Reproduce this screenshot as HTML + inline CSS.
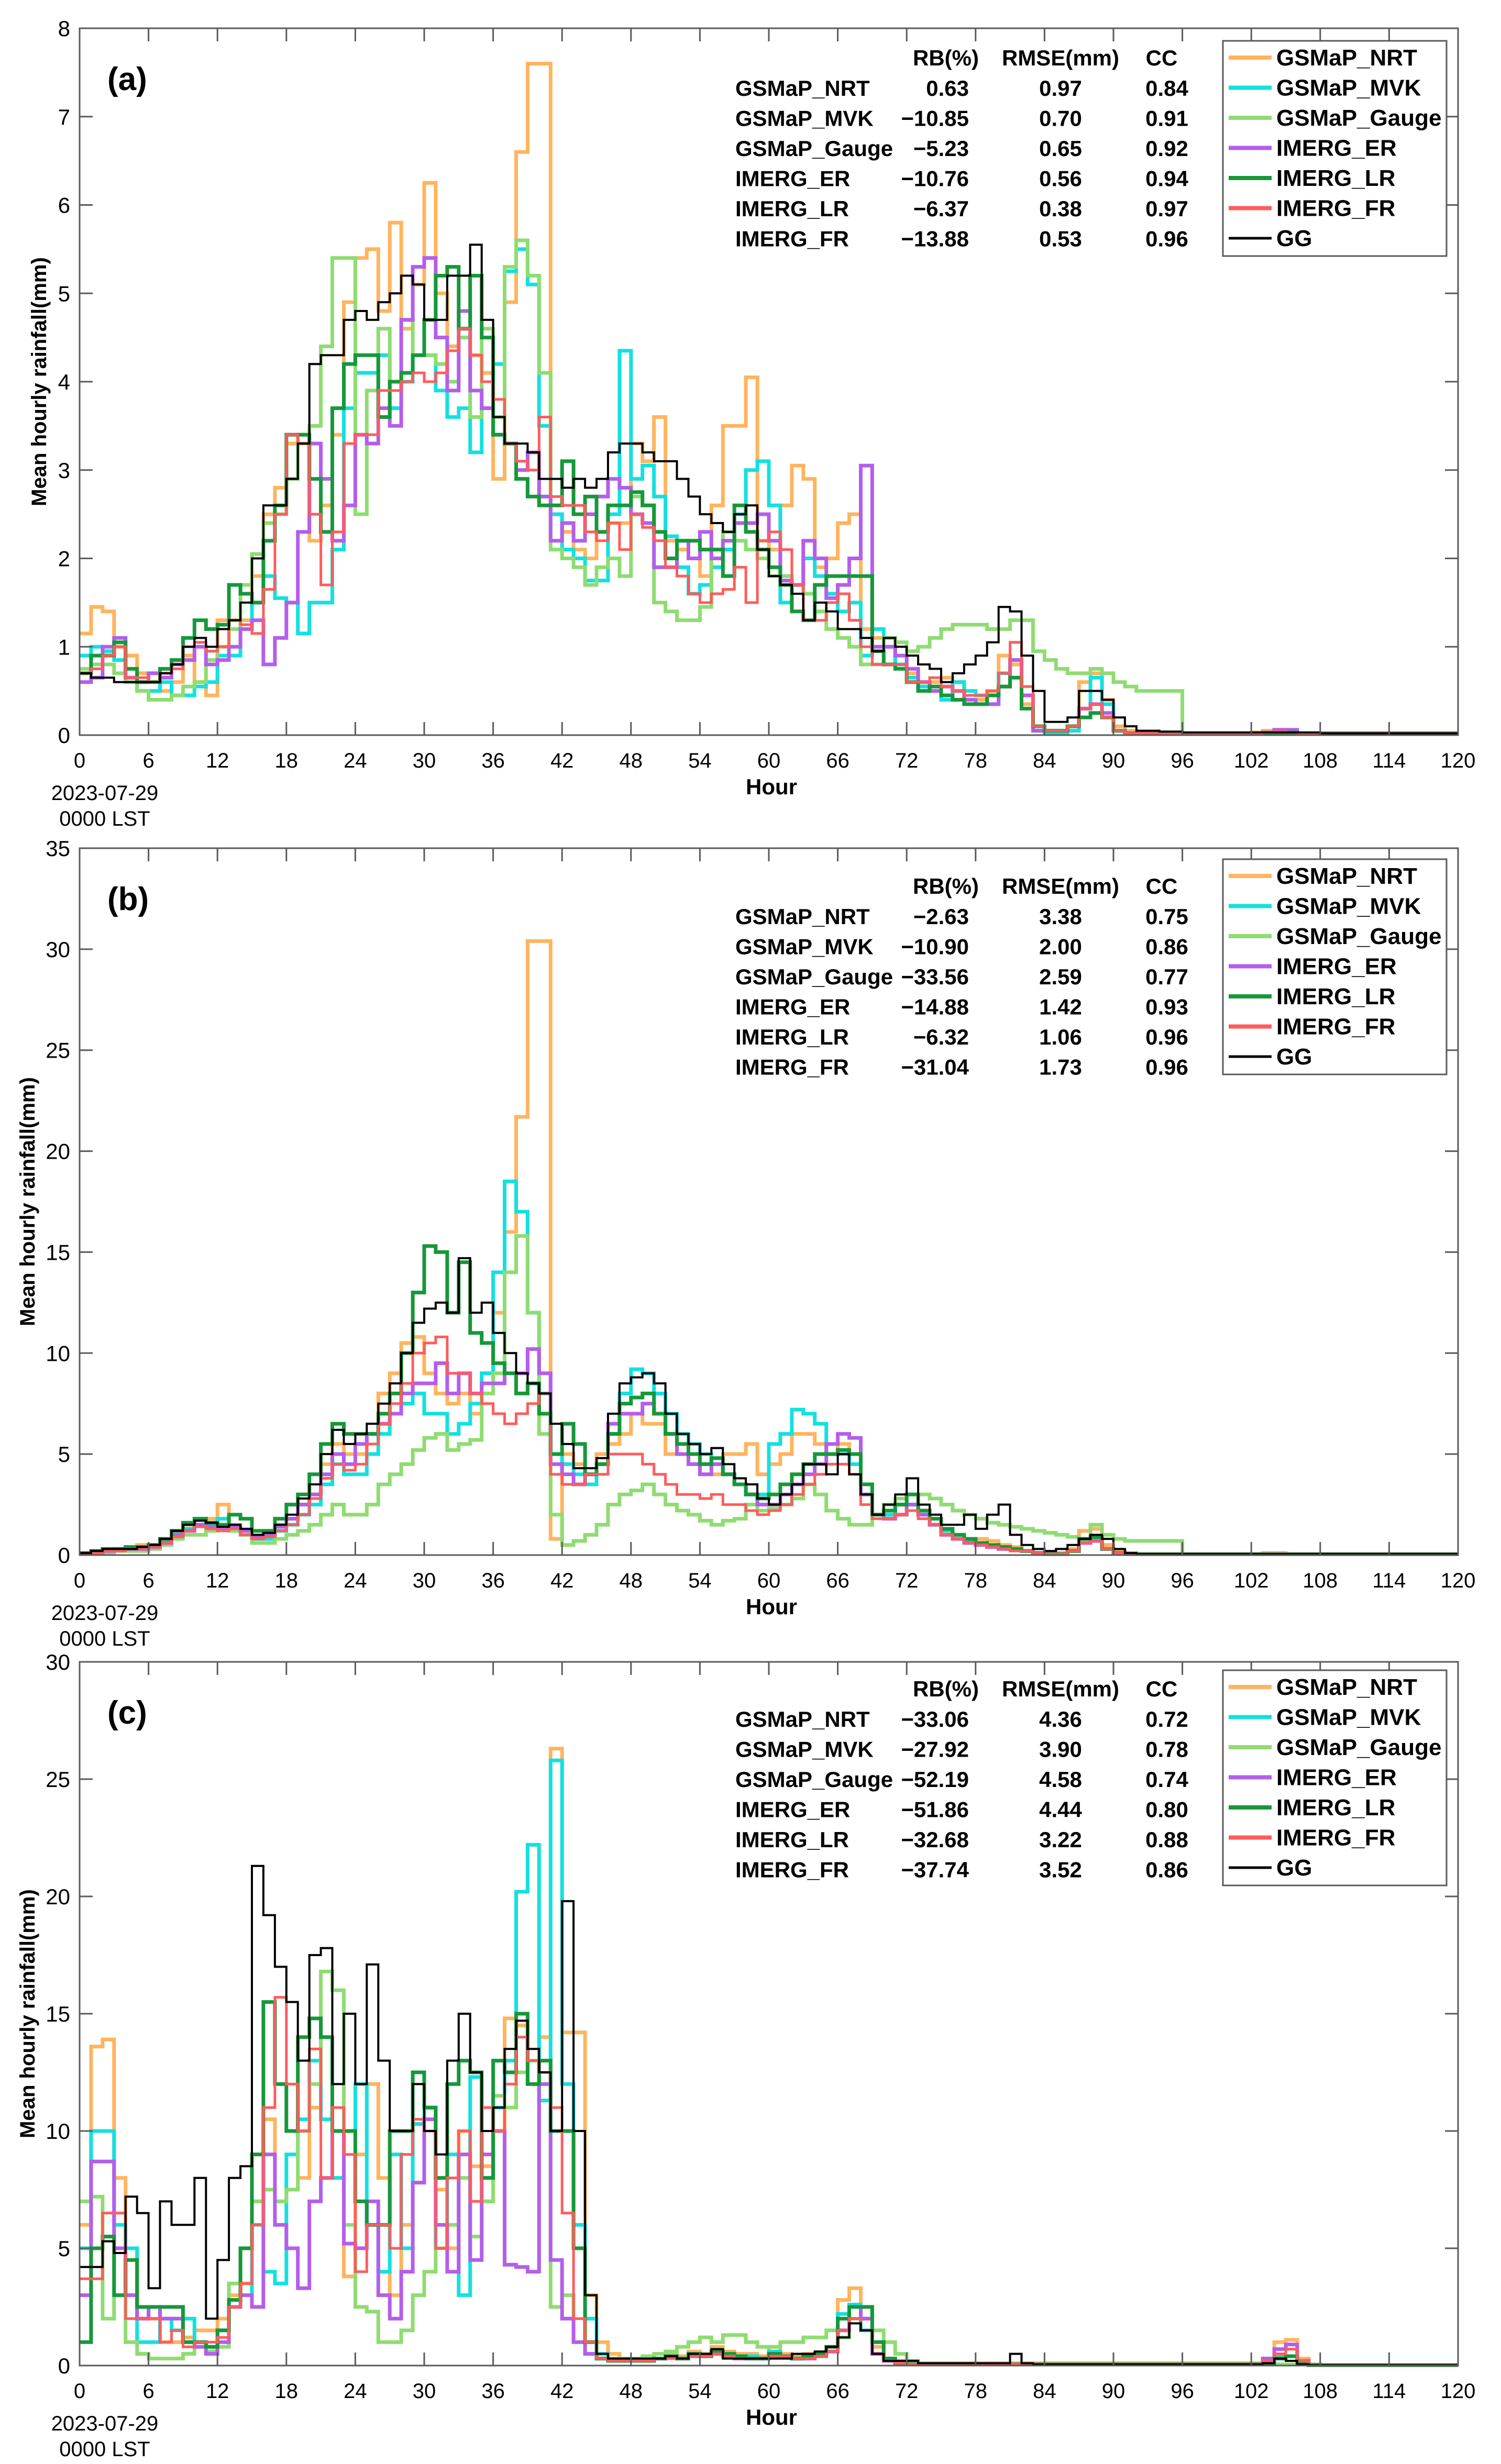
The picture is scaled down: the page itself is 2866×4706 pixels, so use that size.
<!DOCTYPE html>
<html><head><meta charset="utf-8">
<style>
html,body{margin:0;padding:0;background:#fff;}
svg{display:block;}
text{font-family:"Liberation Sans Narrow","Liberation Sans",sans-serif;fill:#000;}
</style></head>
<body>
<svg id="fig" xmlns="http://www.w3.org/2000/svg" width="2866" height="4706" viewBox="0 0 2866 4706"></svg>
<script>
// ---------- shared ----------
const seriesNames = ["GSMaP_NRT","GSMaP_MVK","GSMaP_Gauge","IMERG_ER","IMERG_LR","IMERG_FR","GG"];
const xTicks = [0,6,12,18,24,30,36,42,48,54,60,66,72,78,84,90,96,102,108,114,120];

// ---------- panel (a) ----------
const a_nrt=[1.15,1.45,1.4,1.0,0.9,0.7, 0.7,0.5,0.6,0.9,0.6,0.45, 1.3,1.3,1.3,1.8,2.5,2.8, 3.3,3.4,2.2,2.6,3.4,4.9, 5.4,5.5,4.8,5.8,4.6,5.1, 6.25,5.0,4.4,4.5,4.3,4.1, 2.9,4.9,6.6,7.6,7.6,2.5, 2.3,2.1,2.0,2.3,2.4,2.4, 3.3,3.1,3.6,2.2,2.1,2.0, 1.8,2.6,3.5,3.5,4.05,2.2, 2.1,2.6,3.05,2.9,1.9,2.0, 2.4,2.5,1.2,1.1,1.1,0.8, 0.7,0.6,0.6,0.65,0.6,0.4, 0.4,0.5,0.9,0.8,0.35,0.1, 0.05,0.05,0.1,0.6,0.7,0.4, 0.1,0.05,0.03,0.03,0.03,0.02, 0.02,0.02,0.02,0.02,0.02,0.02, 0.03,0.05,0.05,0.02,0.02,0.02, 0.02,0.02,0.02,0.02,0.02,0.02, 0.02,0.02,0.02,0.02,0.02,0.02];
const a_mvk=[0.9,1.0,0.95,0.85,0.6,0.5, 0.5,0.6,0.45,0.45,0.55,0.6, 0.9,0.9,1.2,1.5,1.8,1.55, 1.5,1.15,1.5,1.5,2.1,3.7, 4.1,4.1,4.3,3.7,4.0,4.3, 4.3,3.9,3.6,3.7,3.2,3.7, 4.2,5.25,5.5,5.1,3.5,2.5, 2.1,2.0,1.75,1.75,2.5,4.35, 2.9,3.05,2.7,2.25,1.9,1.6, 1.7,1.9,2.1,2.5,3.0,3.1, 2.6,1.5,1.7,2.0,1.8,1.6, 1.4,1.5,0.9,1.2,1.0,0.8, 0.65,0.55,0.5,0.4,0.6,0.5, 0.45,0.35,0.7,0.85,0.45,0.05, 0.02,0.02,0.05,0.3,0.65,0.35, 0.05,0.02,0.02,0.02,0.02,0.02, 0.02,0.02,0.02,0.02,0.02,0.02, 0.02,0.03,0.04,0.02,0.02,0.02, 0.02,0.02,0.02,0.02,0.02,0.02, 0.02,0.02,0.02,0.02,0.02,0.02];
const a_gauge=[0.75,0.8,0.8,0.7,0.6,0.5, 0.4,0.4,0.45,0.55,0.6,0.85, 1.0,1.2,1.7,2.05,2.4,2.5, 2.9,3.3,3.5,4.4,5.4,5.4, 2.5,3.9,4.6,4.0,4.7,4.3, 4.3,4.2,4.0,4.5,3.6,4.6, 3.6,5.3,5.6,5.2,4.1,2.1, 2.0,1.9,1.7,1.9,2.0,1.8, 2.7,2.6,1.5,1.4,1.3,1.3, 1.45,2.0,2.3,2.2,2.1,2.0, 1.8,1.8,1.7,1.6,1.4,1.2, 1.1,1.0,0.8,0.8,1.1,1.05, 0.95,1.0,1.1,1.2,1.25,1.25, 1.25,1.2,1.2,1.3,1.3,0.95, 0.85,0.75,0.7,0.7,0.75,0.7, 0.6,0.55,0.5,0.5,0.5,0.5, 0.02,0.02,0.02,0.02,0.02,0.02, 0.02,0.02,0.02,0.02,0.02,0.02, 0.02,0.02,0.02,0.02,0.02,0.02, 0.02,0.02,0.02,0.02,0.02,0.02];
const a_er=[0.6,0.65,1.0,1.1,0.65,0.6, 0.7,0.65,0.8,0.85,1.0,0.8, 0.85,1.0,1.2,1.3,0.8,1.1, 1.5,2.3,3.3,2.9,2.2,2.6, 3.4,3.3,3.7,3.5,4.7,5.3, 5.4,4.5,3.9,4.8,3.9,3.7, 3.4,3.3,3.0,3.2,2.7,2.2, 2.4,2.2,2.5,2.7,2.9,2.8, 2.5,2.4,1.9,1.9,2.2,2.0, 2.3,2.0,2.2,2.4,2.4,2.5, 2.2,1.75,1.7,2.2,2.0,1.55, 1.7,2.0,3.05,1.0,1.0,0.9, 0.75,0.6,0.5,0.55,0.5,0.4, 0.35,0.35,0.55,0.85,0.45,0.05, 0.05,0.05,0.1,0.3,0.35,0.25, 0.05,0.02,0.02,0.02,0.02,0.02, 0.02,0.02,0.02,0.02,0.02,0.02, 0.02,0.03,0.06,0.06,0.02,0.02, 0.02,0.02,0.02,0.02,0.02,0.02, 0.02,0.02,0.02,0.02,0.02,0.02];
const a_lr=[0.7,0.9,0.9,1.05,0.75,0.6, 0.6,0.75,0.85,1.1,1.3,1.2, 1.25,1.7,1.6,1.5,2.2,2.6, 3.4,3.4,2.9,2.3,3.7,4.2, 4.3,4.3,3.6,4.0,4.1,4.3, 4.7,5.2,5.3,4.6,5.2,4.5, 3.4,3.3,2.9,2.7,2.6,2.6, 3.1,2.5,2.7,2.3,2.6,2.6, 2.75,2.6,2.3,2.0,2.2,2.2, 2.1,2.1,1.8,2.6,2.3,2.1, 1.9,1.7,1.4,1.3,1.7,1.8, 1.8,1.8,1.8,0.95,0.8,0.75, 0.6,0.5,0.55,0.45,0.4,0.35, 0.35,0.45,0.55,0.65,0.3,0.1, 0.05,0.05,0.1,0.2,0.25,0.2, 0.05,0.02,0.02,0.02,0.02,0.02, 0.02,0.02,0.02,0.02,0.02,0.02, 0.02,0.02,0.03,0.03,0.02,0.02, 0.02,0.02,0.02,0.02,0.02,0.02, 0.02,0.02,0.02,0.02,0.02,0.02];
const a_fr=[0.7,0.75,0.9,1.0,0.65,0.65, 0.6,0.7,0.75,1.0,1.05,0.95, 1.0,1.3,1.25,1.15,1.65,2.5, 3.4,3.3,2.5,1.7,2.3,3.3, 3.4,3.4,3.9,3.9,4.0,4.1, 4.0,4.1,4.35,4.6,4.3,4.0, 3.8,3.3,3.1,3.0,3.6,2.7, 2.6,2.6,2.3,2.2,2.4,2.1, 2.5,2.35,2.2,1.9,1.8,1.6, 1.5,1.6,1.65,1.9,1.5,2.2, 2.3,2.1,1.7,1.3,1.3,1.5, 1.6,1.3,1.0,0.8,0.8,0.8, 0.6,0.6,0.65,0.55,0.5,0.45, 0.45,0.5,0.7,1.05,0.55,0.1, 0.05,0.05,0.1,0.3,0.35,0.2, 0.05,0.02,0.02,0.02,0.02,0.02, 0.02,0.02,0.02,0.02,0.02,0.02, 0.02,0.03,0.04,0.03,0.02,0.02, 0.02,0.02,0.02,0.02,0.02,0.02, 0.02,0.02,0.02,0.02,0.02,0.02];
const a_gg=[0.7,0.65,0.65,0.6,0.6,0.6, 0.6,0.7,0.8,1.0,1.1,1.0, 1.2,1.3,1.5,2.0,2.6,2.6, 2.9,3.3,4.2,4.3,4.3,4.7, 4.8,4.7,4.9,5.0,5.2,5.1, 4.7,4.7,5.2,5.2,5.55,4.7, 3.6,3.3,3.3,3.2,2.9,2.9, 2.8,2.9,2.8,2.9,3.2,3.3, 3.3,3.2,3.1,3.1,2.9,2.7, 2.5,2.4,2.3,2.5,2.6,2.1, 1.8,1.7,1.6,1.3,1.5,1.4, 1.2,1.2,1.1,0.95,1.1,1.0, 0.9,0.8,0.75,0.6,0.7,0.8, 0.9,1.05,1.45,1.4,0.9,0.5, 0.15,0.15,0.2,0.5,0.5,0.4, 0.2,0.1,0.05,0.05,0.04,0.04, 0.03,0.03,0.03,0.03,0.03,0.03, 0.03,0.03,0.03,0.03,0.03,0.03, 0.02,0.02,0.02,0.02,0.02,0.02, 0.02,0.02,0.02,0.02,0.02,0.02];
const a_rb=["0.63","\u221210.85","\u22125.23","\u221210.76","\u22126.37","\u221213.88"];
const a_rmse=["0.97","0.70","0.65","0.56","0.38","0.53"];
const a_cc=["0.84","0.91","0.92","0.94","0.97","0.96"];

// ---------- panel (b) ----------
const b_nrt=[0.1,0.2,0.3,0.3,0.4,0.5, 0.5,0.8,1.2,1.5,1.5,1.8, 2.5,1.5,1.2,0.8,0.9,1.5, 1.8,2.5,3.0,4.5,5.5,5.0, 5.0,6.0,8.0,9.0,10.5,10.8, 9.0,8.0,7.5,8.0,7.0,9.0, 12.0,16.0,21.7,30.4,30.4,0.8, 5.0,4.5,4.0,5.0,5.5,6.0, 7.0,6.5,6.5,5.0,5.0,4.5, 4.0,4.0,5.0,5.0,5.5,4.0, 4.5,5.0,6.0,6.0,5.5,5.0, 5.5,5.0,3.0,2.0,2.0,2.0, 2.5,2.0,1.5,1.2,1.0,0.8, 0.8,0.7,0.5,0.4,0.2,0.1, 0.1,0.1,0.3,1.2,1.3,0.5, 0.2,0.1,0.05,0.05,0.05,0.05, 0.05,0.05,0.05,0.05,0.05,0.05, 0.05,0.1,0.1,0.05,0.05,0.05, 0.05,0.05,0.05,0.05,0.05,0.05, 0.05,0.05,0.05,0.05,0.05,0.05];
const b_mvk=[0.1,0.2,0.2,0.3,0.3,0.4, 0.5,0.7,1.0,1.3,1.5,1.5, 1.8,1.2,1.0,0.8,0.8,1.2, 1.5,2.0,2.5,3.5,4.5,4.0, 4.0,5.0,6.0,7.0,7.5,8.0, 7.0,7.0,6.0,6.5,7.5,9.0, 14.0,18.5,17.0,12.0,8.0,5.0, 4.5,4.0,3.5,4.5,6.0,8.0, 9.2,9.0,8.0,7.0,6.0,5.5, 5.0,4.5,4.0,3.5,3.0,3.0, 5.5,6.0,7.2,7.0,6.5,5.0, 5.0,4.5,3.0,2.0,2.0,2.5, 2.5,2.0,1.5,1.2,1.0,0.7, 0.5,0.4,0.3,0.3,0.2,0.1, 0.05,0.05,0.2,0.8,0.8,0.3, 0.1,0.05,0.05,0.05,0.05,0.05, 0.05,0.05,0.05,0.05,0.05,0.05, 0.05,0.05,0.05,0.05,0.05,0.05, 0.05,0.05,0.05,0.05,0.05,0.05, 0.05,0.05,0.05,0.05,0.05,0.05];
const b_gauge=[0.05,0.1,0.1,0.2,0.2,0.2, 0.3,0.5,0.8,1.0,1.0,1.2, 1.5,1.2,1.0,0.6,0.6,0.8, 1.0,1.2,1.5,2.0,2.5,2.0, 2.0,2.5,3.5,4.0,4.5,5.2, 5.8,6.0,5.2,5.5,5.7,8.0, 9.0,14.0,15.8,12.0,6.0,2.0, 0.5,0.7,1.0,1.5,2.5,3.0, 3.2,3.5,3.0,2.5,2.2,2.0, 1.7,1.5,1.7,1.8,2.5,2.2, 2.3,2.5,2.8,3.5,3.0,2.2, 1.8,1.5,1.5,2.0,2.5,2.8, 3.0,3.0,2.8,2.5,2.2,2.0, 1.8,1.6,1.5,1.4,1.3,1.2, 1.1,1.0,0.9,0.8,1.5,1.0, 0.8,0.7,0.7,0.7,0.7,0.7, 0.05,0.05,0.05,0.05,0.05,0.05, 0.05,0.05,0.05,0.05,0.05,0.05, 0.05,0.05,0.05,0.05,0.05,0.05, 0.05,0.05,0.05,0.05,0.05,0.05];
const b_er=[0.1,0.1,0.2,0.3,0.3,0.3, 0.4,0.6,1.0,1.2,1.5,1.4, 1.3,1.4,1.2,0.9,1.0,1.4, 1.8,2.5,3.0,4.0,5.0,4.5, 5.5,6.0,6.5,7.0,8.0,8.5, 8.5,9.5,8.0,9.0,8.0,8.5, 8.5,9.0,9.0,10.2,9.0,4.5, 4.0,3.5,4.0,4.5,6.5,7.0, 7.0,7.5,7.0,6.0,5.0,4.5, 4.0,4.5,4.0,3.5,3.0,2.5, 2.5,3.0,3.5,4.0,4.5,5.5, 6.0,5.8,3.0,2.0,1.8,2.0, 2.5,2.0,1.5,1.0,0.8,0.6, 0.5,0.4,0.3,0.3,0.2,0.1, 0.05,0.05,0.2,0.6,0.7,0.3, 0.1,0.05,0.05,0.05,0.05,0.05, 0.05,0.05,0.05,0.05,0.05,0.05, 0.05,0.05,0.05,0.05,0.05,0.05, 0.05,0.05,0.05,0.05,0.05,0.05, 0.05,0.05,0.05,0.05,0.05,0.05];
const b_lr=[0.1,0.2,0.3,0.3,0.4,0.4, 0.5,0.8,1.2,1.6,1.8,1.6, 1.5,2.0,1.8,1.2,1.2,1.8, 2.5,3.0,4.0,5.5,6.5,6.0, 6.0,6.0,7.0,8.0,10.0,13.0, 15.3,15.0,12.0,14.5,11.0,10.5, 9.5,9.0,8.0,8.5,7.0,5.0, 6.5,5.5,4.0,4.5,6.0,7.5, 7.8,8.0,7.0,6.0,5.5,5.0, 4.5,4.8,4.0,3.5,3.0,2.8, 3.0,3.5,4.0,4.5,5.0,5.0, 5.2,5.0,3.5,2.0,2.2,2.5, 3.0,2.2,1.8,1.3,1.0,0.8, 0.6,0.5,0.4,0.3,0.2,0.1, 0.05,0.05,0.2,0.8,0.9,0.3, 0.1,0.05,0.05,0.05,0.05,0.05, 0.05,0.05,0.05,0.05,0.05,0.05, 0.05,0.05,0.05,0.05,0.05,0.05, 0.05,0.05,0.05,0.05,0.05,0.05, 0.05,0.05,0.05,0.05,0.05,0.05];
const b_fr=[0.1,0.1,0.2,0.2,0.3,0.3, 0.4,0.6,0.9,1.2,1.4,1.3, 1.2,1.3,1.0,0.8,0.9,1.2, 1.5,2.0,2.8,3.8,4.5,4.2, 4.5,5.5,6.5,7.5,8.5,10.0, 10.5,10.8,9.0,9.0,8.0,7.5, 7.0,6.5,7.0,7.5,8.0,4.0, 3.5,3.5,4.0,4.0,5.0,5.0, 5.0,4.5,4.0,3.5,3.0,3.0, 2.8,3.0,2.5,2.5,2.2,2.0, 2.2,2.5,3.0,3.5,4.0,4.5, 4.5,4.0,2.5,1.8,1.8,2.0, 2.2,1.8,1.5,1.0,0.8,0.6, 0.5,0.4,0.3,0.2,0.2,0.1, 0.05,0.05,0.2,0.6,0.7,0.3, 0.1,0.05,0.05,0.05,0.05,0.05, 0.05,0.05,0.05,0.05,0.05,0.05, 0.05,0.05,0.05,0.05,0.05,0.05, 0.05,0.05,0.05,0.05,0.05,0.05, 0.05,0.05,0.05,0.05,0.05,0.05];
const b_gg=[0.1,0.2,0.3,0.3,0.3,0.4, 0.5,0.8,1.2,1.5,1.7,1.6, 1.4,1.5,1.3,1.0,1.1,1.5, 2.0,2.8,3.5,5.0,6.2,5.5, 6.0,6.5,7.5,8.5,10.0,11.5, 12.2,12.5,12.0,14.7,12.0,12.5, 11.0,10.0,9.0,8.5,8.0,6.5, 5.5,4.3,4.3,4.8,7.0,8.5, 8.8,9.0,8.5,7.0,6.0,5.5, 5.0,5.3,4.5,3.8,3.5,2.8, 2.5,3.0,3.5,4.5,4.5,4.0, 5.0,4.0,3.0,2.0,2.5,3.0, 3.8,2.5,2.0,1.5,1.5,2.0, 1.3,2.0,2.5,1.0,0.5,0.3, 0.2,0.3,0.5,0.8,1.0,0.8, 0.3,0.1,0.05,0.05,0.05,0.05, 0.05,0.05,0.05,0.05,0.05,0.05, 0.05,0.05,0.05,0.05,0.05,0.05, 0.05,0.05,0.05,0.05,0.05,0.05, 0.05,0.05,0.05,0.05,0.05,0.05];
const b_rb=["\u22122.63","\u221210.90","\u221233.56","\u221214.88","\u22126.32","\u221231.04"];
const b_rmse=["3.38","2.00","2.59","1.42","1.06","1.73"];
const b_cc=["0.75","0.86","0.77","0.93","0.96","0.96"];

// ---------- panel (c) ----------
const c_nrt=[6.0,13.6,13.9,8.0,5.0,2.5, 2.0,1.0,1.0,1.2,1.5,1.5, 2.0,3.0,3.5,7.0,10.5,7.0, 7.5,8.0,11.0,14.0,10.0,3.8, 9.0,12.0,8.0,3.0,6.0,10.3, 11.0,7.5,5.0,10.0,8.5,8.5, 10.0,14.8,14.5,12.0,14.0,26.3, 14.2,14.2,3.0,1.0,0.5,0.3, 0.3,0.2,0.3,0.5,0.4,0.6, 0.5,0.8,0.6,0.5,0.5,0.4, 0.8,0.5,0.4,0.5,0.5,0.8, 2.8,3.3,2.0,0.8,0.3,0.2, 0.1,0.1,0.1,0.1,0.1,0.1, 0.1,0.1,0.1,0.1,0.1,0.1, 0.1,0.1,0.1,0.1,0.1,0.1, 0.1,0.1,0.1,0.1,0.1,0.1, 0.1,0.1,0.1,0.1,0.1,0.1, 0.1,0.3,1.0,1.1,0.3,0.05, 0.02,0.02,0.02,0.02,0.02,0.02, 0.02,0.02,0.02,0.02,0.02,0.02];
const c_mvk=[5.0,10.0,10.0,6.0,5.0,1.0, 1.0,2.0,1.5,2.0,1.0,0.8, 1.5,2.5,3.0,6.0,4.0,3.5, 9.0,10.5,13.0,10.5,8.0,10.0, 12.0,6.0,4.0,9.0,5.0,10.3, 11.0,5.0,9.0,3.0,12.3,7.0, 11.0,13.0,20.2,22.2,11.3,25.8, 12.0,6.0,2.0,0.5,0.3,0.2, 0.2,0.2,0.3,0.4,0.3,0.5, 0.4,0.6,0.5,0.4,0.4,0.3, 0.6,0.4,0.3,0.4,0.4,0.6, 2.2,2.6,1.5,0.5,0.2,0.1, 0.05,0.05,0.05,0.05,0.05,0.05, 0.05,0.05,0.05,0.05,0.05,0.05, 0.05,0.05,0.05,0.05,0.05,0.05, 0.05,0.05,0.05,0.05,0.05,0.05, 0.05,0.05,0.05,0.05,0.05,0.05, 0.05,0.1,0.4,0.4,0.1,0.02, 0.02,0.02,0.02,0.02,0.02,0.02, 0.02,0.02,0.02,0.02,0.02,0.02];
const c_gauge=[7.0,7.2,2.0,5.0,1.0,0.5, 0.3,0.3,0.3,0.5,1.0,0.6, 0.8,3.5,5.0,7.0,7.5,7.0, 7.5,10.0,12.0,16.8,16.0,6.0, 2.5,2.3,1.0,1.0,1.5,3.0, 4.0,5.0,6.0,8.0,5.5,7.0, 11.5,11.0,12.5,13.0,12.0,2.5, 3.0,1.0,0.5,0.3,0.3,0.3, 0.3,0.4,0.5,0.6,0.8,1.0, 1.2,1.0,1.3,1.3,1.0,0.8, 0.8,1.0,1.0,1.2,1.2,1.5, 1.2,2.0,2.5,1.5,1.0,0.5, 0.2,0.1,0.1,0.1,0.1,0.1, 0.05,0.05,0.05,0.05,0.05,0.05, 0.05,0.05,0.05,0.05,0.05,0.05, 0.05,0.05,0.05,0.05,0.05,0.05, 0.05,0.05,0.05,0.05,0.05,0.05, 0.05,0.05,0.05,0.05,0.05,0.05, 0.02,0.02,0.02,0.02,0.02,0.02, 0.02,0.02,0.02,0.02,0.02,0.02];
const c_er=[3.0,8.7,8.7,5.0,3.0,2.0, 2.5,2.0,2.0,1.0,0.8,0.5, 1.0,2.5,3.0,2.5,9.0,6.0, 5.0,3.3,7.0,8.0,10.0,5.2, 5.0,7.0,3.0,2.0,4.0,7.8, 10.5,6.0,4.0,9.0,4.5,9.0, 10.0,4.3,4.2,4.0,12.0,4.5, 2.0,1.0,0.5,0.3,0.2,0.2, 0.2,0.2,0.3,0.4,0.3,0.4, 0.4,0.5,0.4,0.3,0.3,0.3, 0.5,0.4,0.3,0.3,0.4,0.6, 1.5,2.5,2.0,0.5,0.2,0.1, 0.05,0.05,0.05,0.05,0.05,0.05, 0.05,0.05,0.05,0.05,0.05,0.05, 0.05,0.05,0.05,0.05,0.05,0.05, 0.05,0.05,0.05,0.05,0.05,0.05, 0.05,0.05,0.05,0.05,0.05,0.05, 0.05,0.3,0.7,0.9,0.2,0.02, 0.02,0.02,0.02,0.02,0.02,0.02, 0.02,0.02,0.02,0.02,0.02,0.02];
const c_lr=[1.0,5.0,5.5,3.0,4.5,2.5, 2.5,2.5,2.5,1.0,1.0,0.8, 1.5,2.8,5.0,9.0,15.5,12.0, 10.0,14.0,14.8,14.0,10.0,10.0, 7.0,6.0,6.0,10.0,10.0,12.5, 11.0,8.0,12.0,13.0,12.5,8.0, 13.0,12.5,15.0,12.0,13.0,10.0, 10.0,5.0,1.0,0.3,0.2,0.2, 0.2,0.2,0.3,0.4,0.3,0.5, 0.4,0.6,0.5,0.4,0.3,0.3, 0.5,0.4,0.3,0.4,0.5,0.8, 2.0,2.5,2.5,1.0,0.3,0.1, 0.05,0.05,0.05,0.05,0.05,0.05, 0.05,0.05,0.05,0.05,0.05,0.05, 0.05,0.05,0.05,0.05,0.05,0.05, 0.05,0.05,0.05,0.05,0.05,0.05, 0.05,0.05,0.05,0.05,0.05,0.05, 0.05,0.1,0.3,0.4,0.1,0.02, 0.02,0.02,0.02,0.02,0.02,0.02, 0.02,0.02,0.02,0.02,0.02,0.02];
const c_fr=[3.7,3.7,6.5,6.5,2.0,2.0, 2.0,1.0,1.5,0.8,1.0,1.0, 1.2,2.5,3.5,6.0,11.0,15.7, 12.0,10.0,13.5,8.0,11.0,9.0, 4.0,6.0,6.0,5.0,9.0,10.5, 10.0,5.0,8.0,10.0,7.0,11.0, 10.0,12.0,14.0,13.0,12.5,11.0, 6.5,2.0,1.0,0.3,0.2,0.2, 0.2,0.2,0.3,0.3,0.3,0.4, 0.4,0.5,0.4,0.3,0.3,0.3, 0.4,0.4,0.3,0.3,0.4,0.6, 1.5,2.0,1.5,0.5,0.2,0.1, 0.05,0.05,0.05,0.05,0.05,0.05, 0.05,0.05,0.05,0.05,0.05,0.05, 0.05,0.05,0.05,0.05,0.05,0.05, 0.05,0.05,0.05,0.05,0.05,0.05, 0.05,0.05,0.05,0.05,0.05,0.05, 0.05,0.2,0.5,0.7,0.2,0.02, 0.02,0.02,0.02,0.02,0.02,0.02, 0.02,0.02,0.02,0.02,0.02,0.02];
const c_gg=[4.2,4.2,5.3,4.8,7.2,6.5, 3.3,7.0,6.0,6.0,8.0,2.0, 4.5,8.0,8.5,21.3,19.2,17.0, 15.5,13.0,17.5,17.8,12.0,15.0, 12.0,17.1,13.0,10.0,10.0,12.0, 10.0,9.0,13.0,15.0,12.5,10.0, 11.0,13.5,14.7,13.5,12.5,10.0, 19.8,10.0,3.0,0.5,0.3,0.3, 0.3,0.3,0.3,0.4,0.3,0.5, 0.5,0.7,0.3,0.3,0.3,0.3, 0.3,0.3,0.5,0.5,0.6,0.8, 1.2,1.8,1.5,0.5,0.2,0.2, 0.2,0.1,0.1,0.1,0.1,0.1, 0.1,0.1,0.1,0.5,0.1,0.05, 0.05,0.05,0.05,0.05,0.05,0.05, 0.05,0.05,0.05,0.05,0.05,0.05, 0.05,0.05,0.05,0.05,0.05,0.05, 0.05,0.1,0.3,0.2,0.05,0.02, 0.02,0.02,0.02,0.02,0.02,0.02, 0.02,0.02,0.02,0.02,0.02,0.02];
const c_rb=["\u221233.06","\u221227.92","\u221252.19","\u221251.86","\u221232.68","\u221237.74"];
const c_rmse=["4.36","3.90","4.58","4.44","3.22","3.52"];
const c_cc=["0.72","0.78","0.74","0.80","0.88","0.86"];

// ---------- styling / geometry ----------
const COLORS=["#FFB45E","#14E0E0","#8FDC72","#B45EEA","#16983A","#FF5C5C","#000000"];
const WIDTHS=[7,7,7,7,7,5,4];
const X0=152, X1=2784;
const NS="http://www.w3.org/2000/svg";
const svg=document.getElementById('fig');

function el(tag,attrs,parent){const e=document.createElementNS(NS,tag);for(const k in attrs)e.setAttribute(k,attrs[k]);(parent||svg).appendChild(e);return e;}
function txt(str,attrs,parent){const e=el('text',attrs,parent);e.textContent=str;return e;}

function drawPanel(p){
  const g=el('g',{});
  
  
  const xS=h=>X0+(h/120)*(X1-X0);
  const yS=v=>p.bottom-(v/p.ymax)*(p.bottom-p.top);
  p.series.forEach((arr,si)=>{
    let d='';
    arr.forEach((v,h)=>{
      const y=yS(v).toFixed(1);
      d+=(h===0?'M':'L')+xS(h).toFixed(1)+','+y+'L'+xS(h+1).toFixed(1)+','+y;
    });
    const path=el('path',{d:d,fill:'none',stroke:COLORS[si],'stroke-width':WIDTHS[si],'stroke-linejoin':'miter'},g);
    
    
  });
  const ax=el('rect',{x:X0,y:p.top,width:X1-X0,height:p.bottom-p.top,fill:'none',stroke:'#5a5a5a','stroke-width':3},g);
  
  
  xTicks.forEach(t=>{
    const x=xS(t);
    el('line',{x1:x,y1:p.bottom,x2:x,y2:p.bottom-25,stroke:'#5a5a5a','stroke-width':3},g);
    el('line',{x1:x,y1:p.top,x2:x,y2:p.top+25,stroke:'#5a5a5a','stroke-width':3},g);
    const tl=txt(String(t),{x:x,y:p.bottom+62,'text-anchor':'middle','font-size':40},g);
    
    
  });
  for(let v=0;v<=p.ymax+1e-9;v+=p.ystep){
    const y=yS(v);
    el('line',{x1:X0,y1:y,x2:X0+25,y2:y,stroke:'#5a5a5a','stroke-width':3},g);
    el('line',{x1:X1,y1:y,x2:X1-25,y2:y,stroke:'#5a5a5a','stroke-width':3},g);
    const yl=txt(String(v),{x:X0-18,y:y+15,'text-anchor':'end','font-size':42},g);
    
    
  }
  const pl=txt('('+p.key+')',{x:205,y:p.top+118,'font-size':62,'font-weight':'bold'},g);
  
  
  const cy=(p.top+p.bottom)/2;
  const yt=txt('Mean hourly rainfall(mm)',{x:p.ylabX,y:cy,'text-anchor':'middle','font-size':40,'font-weight':'bold',transform:'rotate(-90 '+p.ylabX+' '+cy+')'},g);
  
  
  const xt=txt('Hour',{x:1473,y:p.bottom+113,'text-anchor':'middle','font-size':42,'font-weight':'bold'},g);
  
  
  const d1=txt('2023-07-29',{x:200,y:p.bottom+124,'text-anchor':'middle','font-size':40},g);
  
  
  const d2=txt('0000 LST',{x:200,y:p.bottom+173,'text-anchor':'middle','font-size':40},g);
  
  
  const st=el('g',{},g);
  
  
  const hy=p.top+p.statOff;
  txt('RB(%)',{x:1806,y:hy,'text-anchor':'middle','font-size':42,'font-weight':'bold'},st);
  txt('RMSE(mm)',{x:2025,y:hy,'text-anchor':'middle','font-size':42,'font-weight':'bold'},st);
  txt('CC',{x:2218,y:hy,'text-anchor':'middle','font-size':42,'font-weight':'bold'},st);
  for(let i=0;i<6;i++){
    const ry=hy+58+i*57.5;
    txt(seriesNames[i],{x:1404,y:ry,'font-size':42,'font-weight':'bold'},st);
    txt(p.rb[i],{x:1850,y:ry,'text-anchor':'end','font-size':42,'font-weight':'bold'},st);
    txt(p.rmse[i],{x:2025,y:ry,'text-anchor':'middle','font-size':42,'font-weight':'bold'},st);
    txt(p.cc[i],{x:2228,y:ry,'text-anchor':'middle','font-size':42,'font-weight':'bold'},st);
  }
  const lg=el('g',{},g);
  
  
  const lt=p.top+p.legOff;
  el('rect',{x:2335,y:lt,width:427,height:411,fill:'#fff',stroke:'#5a5a5a','stroke-width':3},lg);
  for(let i=0;i<7;i++){
    const ey=lt+32+i*57.5;
    const ent=el('g',{},lg);
    
    
    el('line',{x1:2346,y1:ey,x2:2428,y2:ey,stroke:COLORS[i],'stroke-width':i===6?5:8},ent);
    txt(seriesNames[i],{x:2437,y:ey+15,'font-size':44,'font-weight':'bold'},ent);
  }
}

drawPanel({key:'a',top:54,bottom:1404,ymax:8,ystep:1,ylabX:88,statOff:71,legOff:24,
  series:[a_nrt,a_mvk,a_gauge,a_er,a_lr,a_fr,a_gg],rb:a_rb,rmse:a_rmse,cc:a_cc});
drawPanel({key:'b',top:1620,bottom:2970,ymax:35,ystep:5,ylabX:66,statOff:87,legOff:21,
  series:[b_nrt,b_mvk,b_gauge,b_er,b_lr,b_fr,b_gg],rb:b_rb,rmse:b_rmse,cc:b_cc});
drawPanel({key:'c',top:3174,bottom:4518,ymax:30,ystep:5,ylabX:66,statOff:66,legOff:16,
  series:[c_nrt,c_mvk,c_gauge,c_er,c_lr,c_fr,c_gg],rb:c_rb,rmse:c_rmse,cc:c_cc});
</script>
</body></html>
